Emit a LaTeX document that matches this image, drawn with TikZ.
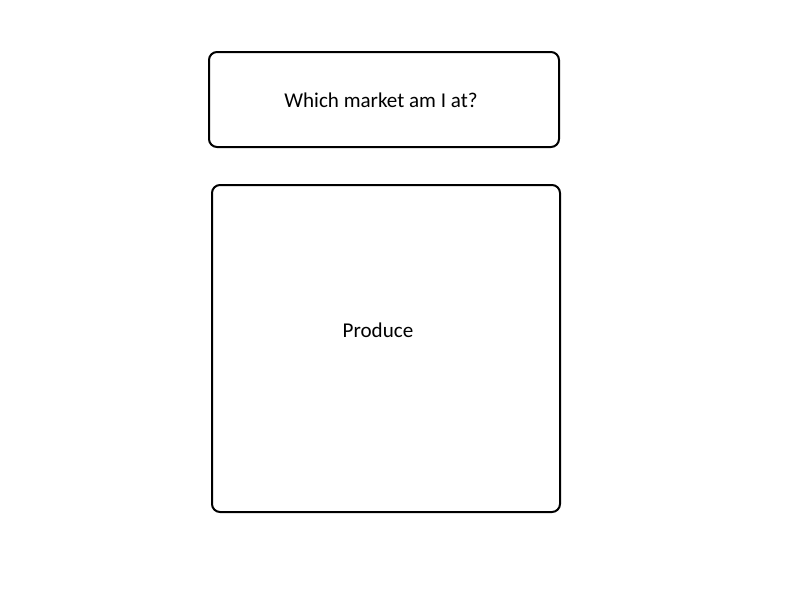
\documentclass[tikz,border=0pt]{standalone}
\usepackage{fontspec}
\setmainfont{Carlito}
\begin{document}
\begin{tikzpicture}[x=0.75pt,y=-0.75pt,
  box/.style={draw=black,line width=1.5pt,rounded corners=6pt},
  lbl/.style={font=\fontsize{15.8}{19}\selectfont,inner sep=0pt}]
\useasboundingbox (0,0) rectangle (800,600);
\draw[box] (209,52) rectangle (559,147);
\node[lbl] (q) at (381,100) {Which market am I at?};
\draw[box] (212,185) rectangle (560,512);
\node[lbl] (p) at (378,330) {Produce};
\end{tikzpicture}
\end{document}
